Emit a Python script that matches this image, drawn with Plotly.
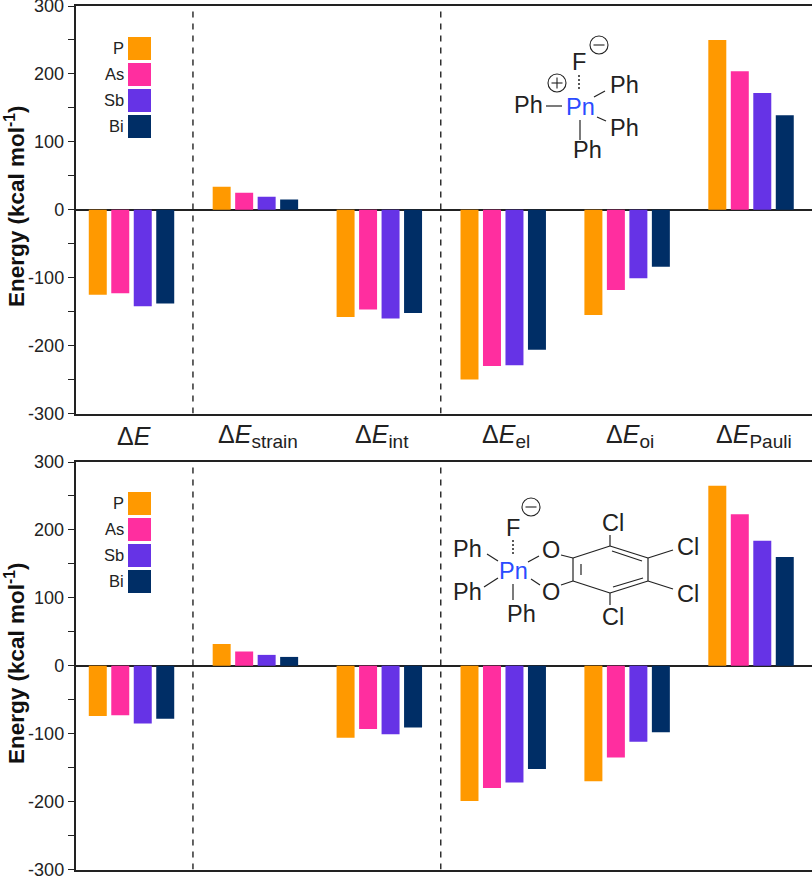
import plotly.graph_objects as go

W, H = 812, 876
terms = ["<i>E</i>", "<i>E</i>|strain", "<i>E</i>|int", "<i>E</i>|el", "<i>E</i>|oi", "<i>E</i>|Pauli"]
pnictogens = ["P", "As", "Sb", "Bi"]
colors = ["#FF9900", "#FF2E9F", "#6633E6", "#002E66"]

top_P = [-125, 34, -158, -250, -155, 250]
top_As = [-123, 25, -147, -230, -118, 204]
top_Sb = [-142, 19, -160, -229, -101, 172]
top_Bi = [-138, 15, -152, -206, -84, 139]

bot_P = [-74, 32, -106, -199, -170, 265]
bot_As = [-73, 21, -93, -180, -135, 223]
bot_Sb = [-85, 16, -101, -172, -112, 184]
bot_Bi = [-78, 13, -91, -152, -98, 160]

y_ticks = [-300, -200, -100, 0, 100, 200, 300]
y_tick_labels = ["-300", "-200", "-100", "0", "100", "200", "300"]
y_title = "<b>Energy (kcal mol<sup>-1</sup>)</b>"

FONT = "Liberation Sans"
INK = "#222222"


def px(x):
    return x / W


def py(y):
    return 1 - y / H


def term_label(t):
    main, _, sub = t.partition("|")
    text = "Δ" + main
    if sub:
        text += '<sub><span style="font-size:19px">' + sub + "</span></sub>"
    return text


fig = go.Figure()
for name, color, top, bot in zip(pnictogens, colors,
                                 [top_P, top_As, top_Sb, top_Bi],
                                 [bot_P, bot_As, bot_Sb, bot_Bi]):
    fig.add_trace(go.Bar(x=list(range(6)), y=top, name=name, marker_color=color,
                         marker_line_width=0, xaxis="x", yaxis="y", showlegend=False))
    fig.add_trace(go.Bar(x=list(range(6)), y=bot, name=name, marker_color=color,
                         marker_line_width=0, xaxis="x2", yaxis="y2", showlegend=False))

xcommon = dict(range=[-0.452, 5.492], domain=[px(75.5), 1], showline=True, mirror=True,
               linecolor=INK, linewidth=1.5, ticks="", showticklabels=False, showgrid=False,
               zeroline=False, automargin=False)
ycommon = dict(range=[-300, 300], tickmode="array", tickvals=y_ticks, ticktext=y_tick_labels,
               ticks="outside", ticklen=6, tickwidth=1.2, tickcolor=INK, ticklabeloverflow="allow",
               minor=dict(dtick=50, tick0=0, ticks="outside", ticklen=6, tickwidth=1.2, tickcolor=INK),
               showline=True, linecolor=INK, linewidth=1.5, showgrid=False, automargin=False,
               zeroline=True, zerolinecolor=INK, zerolinewidth=1.5,
               tickfont=dict(family=FONT, size=18, color=INK))

shapes, annotations = [], []


def line(x0, y0, x1, y1, width=1.2, dash="solid", color=INK):
    shapes.append(dict(type="line", xref="paper", yref="paper", x0=px(x0), y0=py(y0), x1=px(x1), y1=py(y1),
                       line=dict(color=color, width=width, dash=dash)))


def label(x, y, text, size=23.5, color=INK, xanchor="center"):
    annotations.append(dict(xref="paper", yref="paper", x=px(x), y=py(y), text=text, showarrow=False,
                            xanchor=xanchor, yanchor="middle",
                            font=dict(family=FONT, size=size, color=color)))


def charge(x, y, sign):
    r = 9
    shapes.append(dict(type="circle", xref="paper", yref="paper", x0=px(x - r), x1=px(x + r),
                       y0=py(y + r), y1=py(y - r), line=dict(color=INK, width=1.1)))
    line(x - 5.5, y, x + 5.5, y, 1.1)
    if sign == "+":
        line(x, y - 5.5, x, y + 5.5, 1.1)


# axis titles
for yc in (206, 663):
    annotations.append(dict(xref="paper", yref="paper", x=px(15), y=py(yc), text=y_title, showarrow=False,
                            textangle=-90, xanchor="center", yanchor="middle",
                            font=dict(family=FONT, size=22.5, color="#111111")))

# dividers
for xref, yref in (("x", "y"), ("x2", "y2")):
    for xv in (0.496, 2.496):
        shapes.append(dict(type="line", xref=xref, yref=yref, x0=xv, x1=xv, y0=-300, y1=300,
                           line=dict(color="#111111", width=1.3, dash="6px,6px")))

# legends
for y0 in (37, 492):
    for i, (name, color) in enumerate(zip(pnictogens, colors)):
        top = y0 + i * 26
        shapes.append(dict(type="rect", xref="paper", yref="paper", x0=px(128), x1=px(151),
                           y0=py(top + 23), y1=py(top), fillcolor=color, line_width=0))
        label(125.5, top + 11, name, 16.5, INK, "right")

# group labels
for i, t in enumerate(terms):
    annotations.append(dict(xref="x", yref="paper", x=i + 0.02, y=py(436), text=term_label(t), showarrow=False,
                            xanchor="center", yanchor="middle",
                            font=dict(family=FONT, size=25, color=INK)))

# upper structure
label(579, 62, "F"); label(580, 107, "Pn", color="#2A4BFF")
label(528, 105, "Ph"); label(624, 85, "Ph"); label(624, 128, "Ph"); label(587, 150, "Ph")
charge(599, 45, "-"); charge(557, 83, "+")
line(546, 106, 562, 106); line(594, 97, 605, 91); line(597, 117, 606, 121); line(580, 120, 580, 140)
line(579, 75, 579, 90, 1.5, "2px,2px")

# lower structure
label(513, 528, "F"); label(513, 571, "Pn", color="#2A4BFF")
label(468, 549, "Ph"); label(468, 592, "Ph"); label(521, 614, "Ph")
label(551, 550, "O"); label(551, 592, "O")
label(613, 523, "Cl"); label(688, 547, "Cl"); label(688, 594, "Cl"); label(613, 617, "Cl")
charge(531, 507, "-")
line(513, 540, 513, 555, 1.5, "2px,2px")
for seg in [(487, 554, 498, 561), (484, 587, 498, 578), (513, 584, 513, 600),
            (528, 562, 539, 556), (531, 579, 540, 585), (561, 555, 573, 558), (561, 585, 573, 581),
            (573, 558, 610, 546), (610, 546, 648, 558), (648, 558, 648, 581), (648, 581, 610, 593),
            (610, 593, 573, 581), (573, 581, 573, 558),
            (581, 564, 581, 575), (612, 551, 642, 561), (613, 587, 643, 578),
            (610, 546, 610, 535), (648, 558, 673, 550), (648, 581, 673, 589), (610, 593, 610, 605)]:
    line(*seg)

fig.update_layout(
    width=W, height=H, margin=dict(l=0, r=0, t=0, b=0), autosize=False,
    paper_bgcolor="white", plot_bgcolor="white",
    barmode="group", bargap=0.274, bargroupgap=0.2,
    xaxis=dict(**xcommon, anchor="y"),
    xaxis2=dict(**xcommon, anchor="y2"),
    yaxis=dict(**ycommon, domain=[py(413.5), py(6)], anchor="x"),
    yaxis2=dict(**ycommon, domain=[py(869.5), py(462)], anchor="x2"),
    shapes=shapes, annotations=annotations,
)
fig.write_html("out.html", config={"displayModeBar": False},
               post_script="document.body.style.margin='0';document.documentElement.style.overflow='hidden';")
